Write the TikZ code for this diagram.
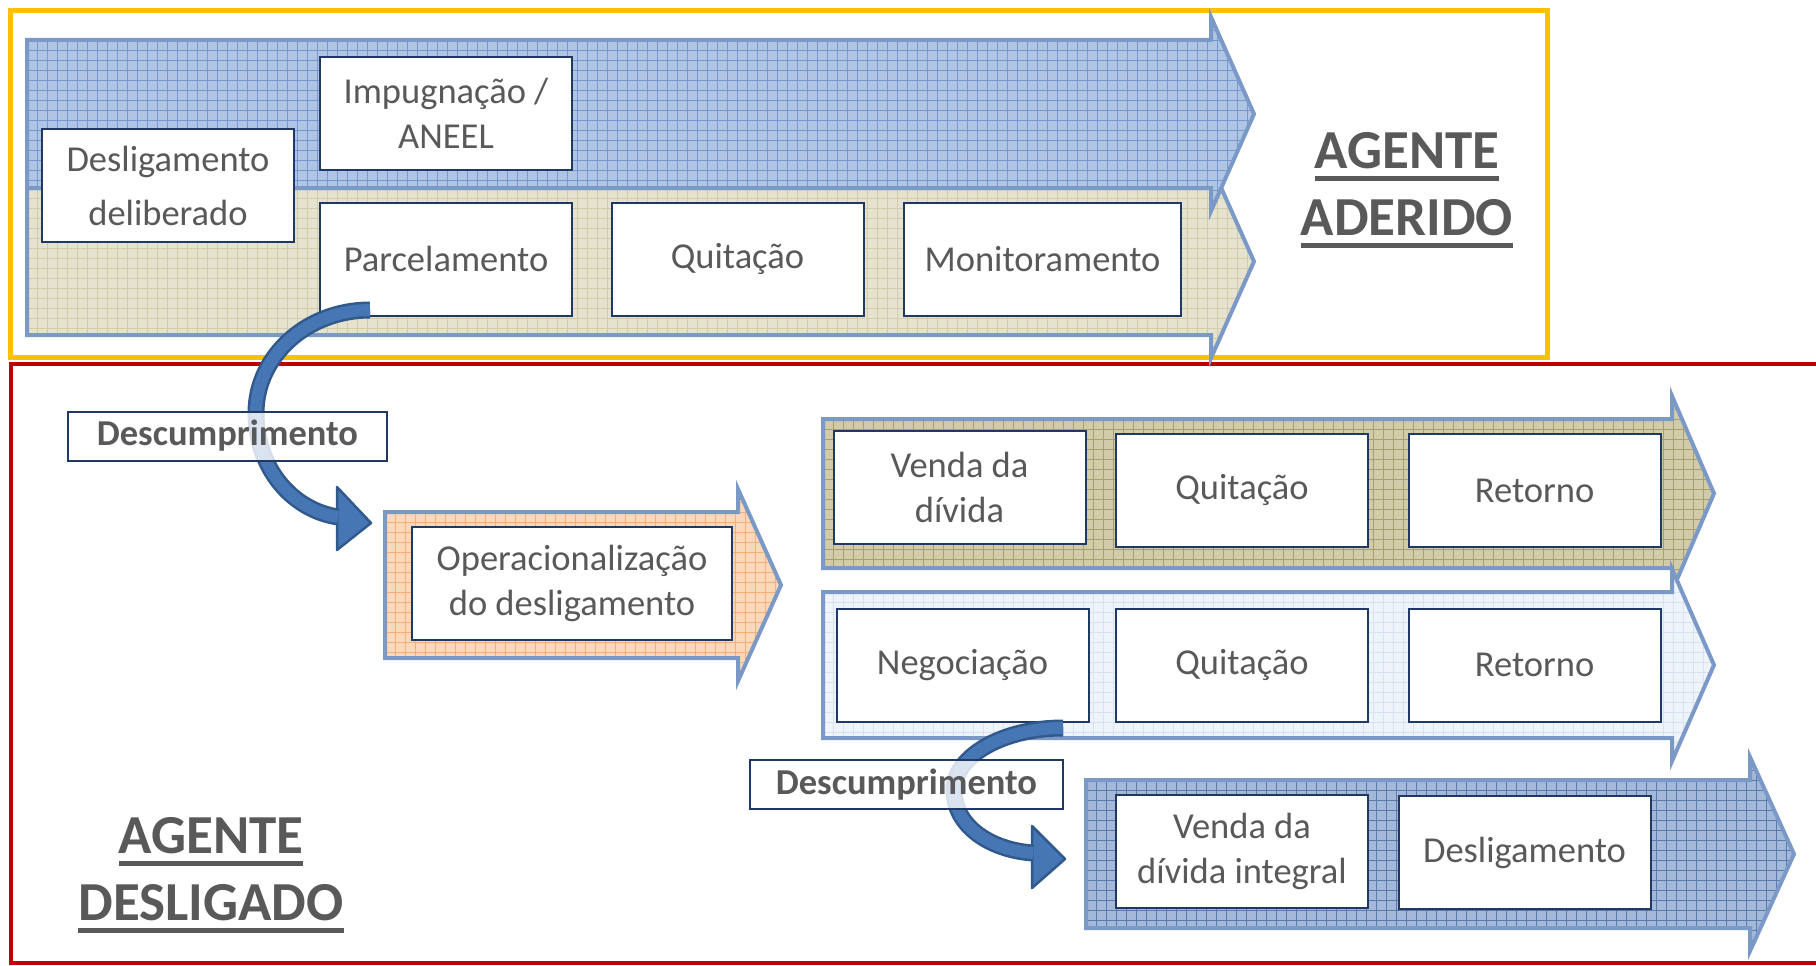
\documentclass[tikz,border=0pt]{standalone}
\usepackage{fontspec}
\setmainfont{Carlito}
\usepackage{tikz}

\definecolor{texto}{HTML}{595959}
\definecolor{borda}{HTML}{203864}
\definecolor{amarelo}{HTML}{FFC000}
\definecolor{vermelho}{HTML}{C00000}
\definecolor{contornocor}{HTML}{7B99C6}
\definecolor{azulF}{HTML}{B0C5E4}\definecolor{azulG}{HTML}{7399D0}
\definecolor{begeF}{HTML}{E5E2CF}\definecolor{begeG}{HTML}{D2CCAA}
\definecolor{laranjaF}{HTML}{FCD8BA}\definecolor{laranjaG}{HTML}{F7AE78}
\definecolor{olivaF}{HTML}{D2CBA9}\definecolor{olivaG}{HTML}{A89F70}
\definecolor{claroF}{HTML}{EFF3FA}\definecolor{claroG}{HTML}{D8E2F1}
\definecolor{escuroF}{HTML}{A4B8D9}\definecolor{escuroG}{HTML}{5A79AC}
\definecolor{faixaF}{HTML}{4676B4}
\definecolor{faixaB}{HTML}{31598C}

\tikzset{
  caixa/.style={draw=borda, line width=2, fill=white, text=texto, inner sep=0,
    align=center, minimum width=252, minimum height=113,
    font=\fontsize{36.5}{44.5}\selectfont},
  rotulo/.style={draw=borda, line width=2, fill=white, fill opacity=0.8, text opacity=1,
    text=texto, inner sep=0, minimum height=49, font=\fontsize{36.5}{44.5}\selectfont\bfseries},
  titulo/.style={text=texto, inner sep=0, align=center, font=\fontsize{55}{67}\selectfont\bfseries},
  contorno/.style={draw=contornocor, line width=4, line join=miter},
  faixaborda/.style={draw=faixaB, line width=17},
  faixameio/.style={draw=faixaF, line width=12},
  ponta/.style={fill=faixaF, draw=faixaB, line width=2.5, line join=round}
}

% seta de processo: inicio, topo, base, fim do corpo, ponta, fundo, grade
\newcommand{\seta}[7]{%
  \begin{scope}
    \clip (#1,#2) -- (#4,#2) -- (#4,#2-23) -- (#5,{(#2+#3)/2}) -- (#4,#3+23) -- (#4,#3) -- (#1,#3) -- cycle;
    \fill[#6] (#1,#2-30) rectangle (#5,#3+30);
    \foreach \ii in {0,...,135} \draw[#7, line width=0.9] (#1+10*\ii,#2-30) -- (#1+10*\ii,#3+30);
    \foreach \ii in {-3,...,18} \draw[#7, line width=0.9] (#1,#2+10*\ii) -- (#5,#2+10*\ii);
  \end{scope}
  \draw[contorno] (#1,#2) -- (#4,#2) -- (#4,#2-23) -- (#5,{(#2+#3)/2}) -- (#4,#3+23) -- (#4,#3) -- (#1,#3) -- cycle;
}

\newcommand{\sublinha}[1]{\setbox0\hbox{#1}\rlap{\rule[-12.2pt]{\wd0}{4.5pt}}\box0}

\begin{document}
\begin{tikzpicture}[x=1pt,y=-1pt]
  \useasboundingbox (0,0) rectangle (1816,966);

  % molduras
  \draw[vermelho, line width=4.5] (11,364) rectangle (1840,963);
  \draw[amarelo, line width=5] (10,11) rectangle (1547,357);

  % setas de fundo
  \seta{27}{188}{335}{1211}{1254}{begeF}{begeG}
  \seta{27}{40}{188}{1211}{1254}{azulF}{azulG}
  \seta{385}{512}{658}{738}{781}{laranjaF}{laranjaG}
  \seta{823}{419}{568}{1672}{1714}{olivaF}{olivaG}
  \seta{823}{592}{738}{1672}{1714}{claroF}{claroG}
  \seta{1086}{780}{928}{1750}{1794}{escuroF}{escuroG}

  % agente aderido
  \node[caixa, font=\fontsize{36.5}{54}\selectfont] (deslig) at (168,185.5) {Desligamento\\deliberado};
  \node[caixa] (impug) at (446,113.5) {Impugnação /\\ANEEL};
  \node[caixa] (parcel) at (446,259) {Parcelamento};
  \node[caixa] (quitA) at (737.5,259) {Quitação};
  \node[caixa, minimum width=277] (monit) at (1042.5,259) {Monitoramento};
  \node[titulo] (aderido) at (1407,190) {\sublinha{AGENTE}\\\sublinha{ADERIDO}};

  % agente desligado
  \node[caixa, minimum width=320] (oper) at (572,583.5) {Operacionalização\\do desligamento};
  \node[caixa] (vendaA) at (959.5,487.5) {Venda da\\dívida};
  \node[caixa] (quitB) at (1242,490.5) {Quitação};
  \node[caixa] (retA) at (1534.5,490.5) {Retorno};
  \node[caixa] (negoc) at (962.5,665) {Negociação};
  \node[caixa] (quitC) at (1242,665) {Quitação};
  \node[caixa] (retB) at (1534.5,665) {Retorno};
  \node[caixa] (vendaB) at (1242,851.5) {Venda da\\dívida integral};
  \node[caixa] (desligB) at (1524.5,852.5) {Desligamento};
  \node[titulo] (desligado) at (211,875) {\sublinha{AGENTE}\\\sublinha{DESLIGADO}};

  % descumprimento
  \coordinate (iniA) at (370,310);
  \coordinate (fimA) at (338,517);
  \coordinate (pontaA) at (371,523);
  \coordinate (iniB) at (1063,728);
  \coordinate (fimB) at (1033,853);
  \coordinate (pontaB) at (1065,859);

  \draw[ponta] (337,487) -- (pontaA) -- (337,550) -- cycle;
  \draw[faixaborda] (iniA) .. controls (307,310) and (256,356) .. (256,413) .. controls (256,468) and (292,510) .. (fimA);
  \draw[faixameio] (iniA) .. controls (307,310) and (256,356) .. (256,413) .. controls (256,468) and (292,510) .. (fimA);

  \draw[ponta] (1032,826) -- (pontaB) -- (1032,888) -- cycle;
  \draw[faixaborda] (iniB) .. controls (1003,728) and (954,756) .. (954,790) .. controls (954,826) and (990,850) .. (fimB);
  \draw[faixameio] (iniB) .. controls (1003,728) and (954,756) .. (954,790) .. controls (954,826) and (990,850) .. (fimB);

  \node[rotulo, minimum width=319] (descumpA) at (227.5,436) {Descumprimento};
  \node[rotulo, minimum width=313] (descumpB) at (906.5,784.5) {Descumprimento};
\end{tikzpicture}
\end{document}
